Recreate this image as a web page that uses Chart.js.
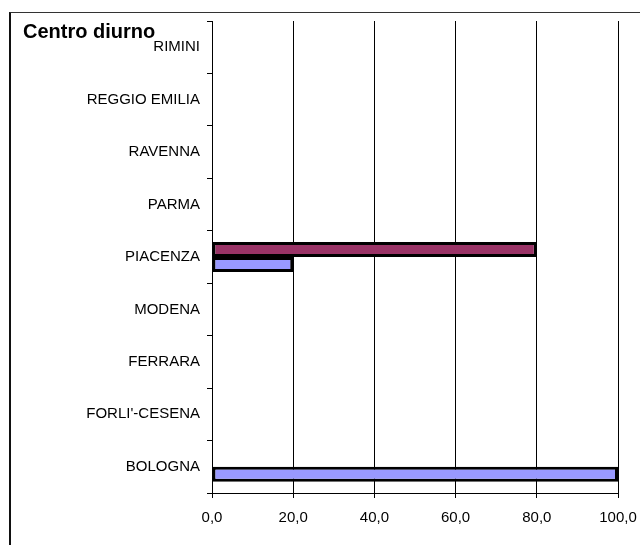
<!DOCTYPE html>
<html>
<head>
<meta charset="utf-8">
<script src="https://cdn.jsdelivr.net/npm/chart.js@4"></script>
<style>
  body { margin: 0; background: #fff; }
  #wrap { position: relative; width: 640px; height: 545px; overflow: hidden; }
  #frame { position: absolute; left: 9px; top: 12px; width: 700px; height: 600px;
           border-left: 2px solid #111; border-top: 1px solid #333; }
  #title { position: absolute; left: 23px; top: 21px; font: bold 20px/20px 'Liberation Sans', Arial, sans-serif;
           color: #000; z-index: 2; }
  canvas { position: absolute; left: 0; top: 0; }
</style>
</head>
<body>
<div id="wrap">
  <div id="frame"></div>
  <div id="title">Centro diurno</div>
  <canvas id="chart" width="640" height="545"></canvas>
</div>
<script>
// provinces, top to bottom
var categories = ['RIMINI', 'REGGIO EMILIA', 'RAVENNA', 'PARMA', 'PIACENZA', 'MODENA', 'FERRARA', "FORLI'-CESENA", 'BOLOGNA'];
// maroon series (upper bar of each group)
var serie1 = [null, null, null, null, 80, null, null, null, null];
// lavender series (lower bar of each group)
var serie2 = [null, null, null, null, 20, null, null, null, 100];
var xMin = 0, xMax = 100, xStep = 20;

var font = { family: "'Liberation Sans', Arial, sans-serif", size: 15 };

var chart = new Chart(document.getElementById('chart'), {
  type: 'bar',
  data: {
    labels: categories,
    datasets: [
      { label: 'Serie 1', data: serie1, backgroundColor: '#993366', borderColor: '#000', borderWidth: 3, borderSkipped: false },
      { label: 'Serie 2', data: serie2, backgroundColor: '#9999FF', borderColor: '#000', borderWidth: 3, borderSkipped: false }
    ]
  },
  options: {
    indexAxis: 'y',
    responsive: false,
    animation: false,
    categoryPercentage: 0.573,
    barPercentage: 1,
    layout: { padding: { left: 0, top: 21, right: 22, bottom: 0 } },
    plugins: { legend: { display: false }, tooltip: { enabled: false } },
    scales: {
      x: {
        min: xMin,
        max: xMax,
        ticks: {
          stepSize: xStep,
          color: '#000',
          font: font,
          padding: 11,
          maxRotation: 0,
          callback: function(v) { return v.toFixed(1).replace('.', ','); }
        },
        grid: { color: '#000', lineWidth: 1, tickLength: 5 },
        border: { color: '#000', width: 1 },
        afterFit: function(scale) { scale.height = 52; scale.paddingRight = 0; scale.paddingLeft = 0; }
      },
      y: {
        ticks: { color: '#000', font: font, padding: 7, autoSkip: false },
        grid: { offset: true, drawOnChartArea: false, color: '#000', tickLength: 5 },
        border: { color: '#000', width: 1 },
        afterFit: function(scale) { scale.width = 212; scale.paddingTop = 0; scale.paddingBottom = 0; }
      }
    }
  }
});
</script>
</body>
</html>
